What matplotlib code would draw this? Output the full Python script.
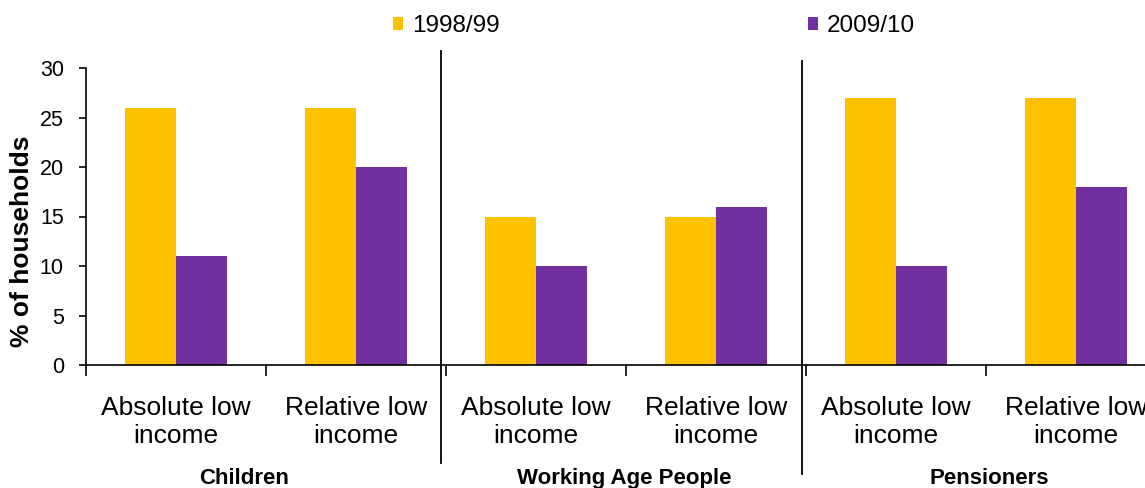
import numpy as np
import matplotlib.pyplot as plt
import matplotlib.transforms as mtransforms

plt.rcParams['font.family'] = ['Liberation Sans', 'DejaVu Sans']

categories = ["Absolute low\nincome", "Relative low\nincome"] * 3
groups = ["Children", "Working Age People", "Pensioners"]
group_pos = [0.38, 2.49, 4.52]
series = ["1998/99", "2009/10"]
v1998 = [26, 26, 15, 15, 27, 27]
v2009 = [11, 20, 10, 16, 10, 18]
colors = ["#FFC000", "#7030A0"]

W, H = 1145, 488
fig = plt.figure(figsize=(W / 100, H / 100), dpi=100)
ax = fig.add_axes([86 / W, (H - 365) / H, 1080 / W, 297 / H])

x = np.arange(len(categories))
bw = 0.283
ax.bar(x - bw / 2, v1998, bw, color=colors[0], label=series[0])
ax.bar(x + bw / 2, v2009, bw, color=colors[1], label=series[1])

ax.set_xlim(-0.5, len(categories) - 0.5)
ax.set_ylim(0, 30)
ax.set_yticks(range(0, 31, 5))
for s in ["top", "right"]:
    ax.spines[s].set_visible(False)
ax.spines["left"].set_linewidth(1.2)
ax.spines["bottom"].set_linewidth(1.2)
ax.tick_params(axis="y", direction="out", length=5, width=1.2, pad=11, labelsize=15.5)

ax.set_xticks(x)
ax.set_xticklabels(categories, fontsize=19, linespacing=1.25)
ax.set_xticks(np.arange(-0.5, len(categories), 1), minor=True)
ax.tick_params(axis="x", which="major", length=0, pad=22)
ax.tick_params(axis="x", which="minor", length=8, width=1.2, direction="out")

# separators between groups
sep = mtransforms.blended_transform_factory(ax.transData, ax.transAxes)
for bx, top, bot in [(1.47, 1.057, -0.33), (3.48, 1.024, -0.367)]:
    ax.plot([bx, bx], [bot, top], color="black", lw=1.3, transform=sep, clip_on=False)

trans = mtransforms.blended_transform_factory(ax.transData, fig.transFigure)
for g, p in zip(groups, group_pos):
    ax.text(p, 4 / H, g, transform=trans, ha="center", va="baseline",
            fontsize=16, fontweight="bold")

fig.text(22 / W, 1 - 241 / H, "% of households", rotation=90, ha="center",
         va="center", fontsize=19, fontweight="bold")

fig.legend(loc="center left", bbox_to_anchor=(393 / W, 1 - 26 / H), ncol=2,
           frameon=False, fontsize=17.5, handlelength=0.42, handleheight=0.42,
           handletextpad=0.35, columnspacing=12.7, borderpad=0, borderaxespad=0)

fig.savefig("out.png", dpi=100)
